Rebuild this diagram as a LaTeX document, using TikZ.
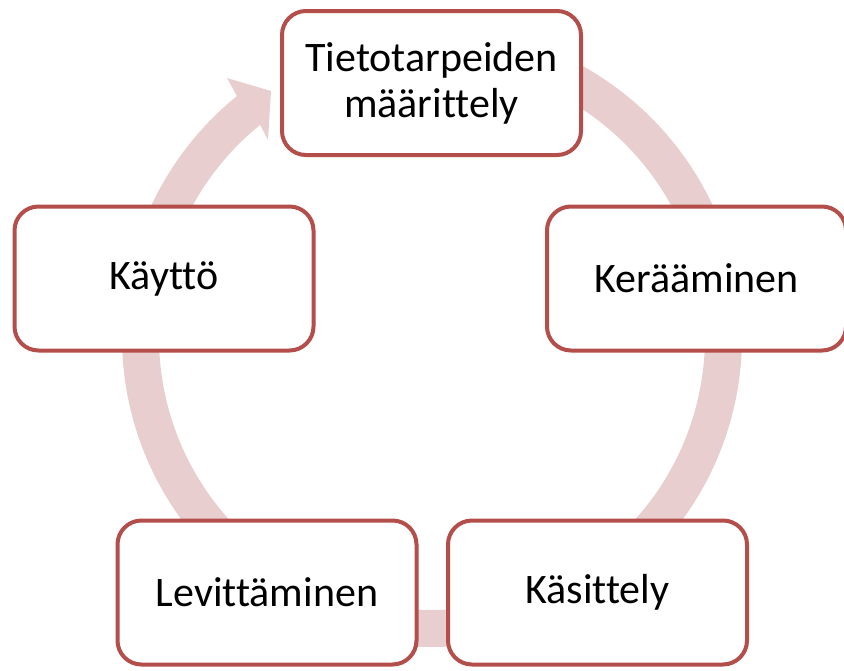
\documentclass[tikz,border=0pt]{standalone}
\usepackage{fontspec}
\setmainfont{Carlito}[Ligatures=NoCommon]
\usetikzlibrary{positioning,calc}
\definecolor{boxline}{RGB}{179,78,74}
\definecolor{ringfill}{RGB}{232,206,207}
\tikzset{x=1pt, y=-1pt, node distance=2cm, auto}
\tikzset{phase/.style={draw=boxline, line width=4pt, fill=white, rounded corners=24pt,
  minimum width=299pt, minimum height=144pt, align=center, inner sep=0pt,
  font=\fontsize{42}{46}\selectfont}}

\begin{document}
\begin{tikzpicture}

           \useasboundingbox (0,0) rectangle (844,670);
           \coordinate (C) at (432,337);

           % ring with arrow head
           \fill[ringfill] (C) ++(-90:310) arc[start angle=-90, end angle=231, radius=310]
                -- (227,78) -- (271,91) -- (268,140)
                -- ($(C)+(231:273)$) arc[start angle=231, end angle=-90, radius=273] -- cycle;

           \node (Tie) [phase] at (431.5,83) {Tietotarpeiden\\määrittely};
           \node (Ker) [phase] at (696.5,278.5) {Kerääminen};
           \node (Kay) [phase, left of=Ker, node distance=532.5pt] {Käyttö};
           \node (Kas) [phase] at (597.5,592.5) {Käsittely};
           \node (Lev) [phase, left of=Kas, node distance=330.5pt] {Levittäminen};

         \end{tikzpicture}
\end{document}
